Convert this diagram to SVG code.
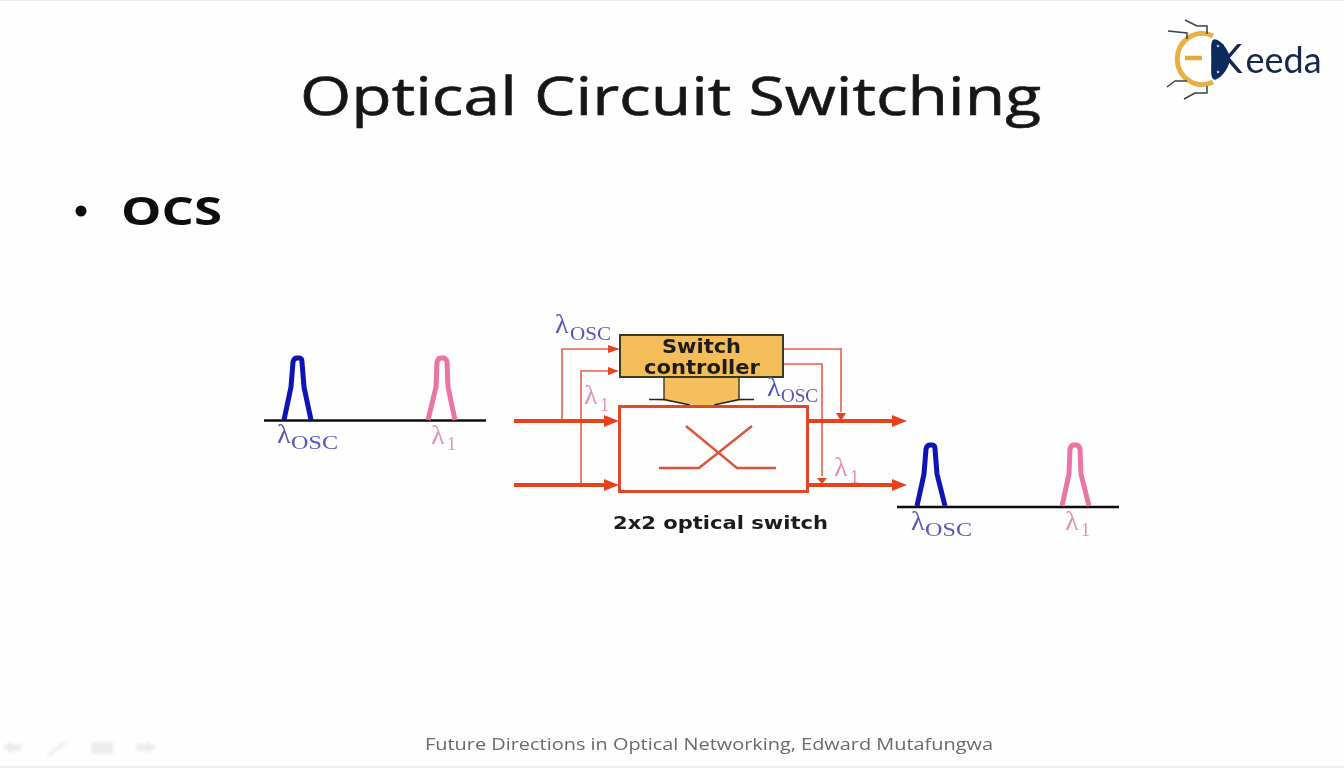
<svg xmlns="http://www.w3.org/2000/svg" width="1344" height="768" viewBox="0 0 1344 768">
<defs>
<filter id="soft" x="0" y="0" width="100%" height="100%"><feGaussianBlur stdDeviation="0.55"/></filter>
<filter id="softer" x="-20%" y="-20%" width="140%" height="140%"><feGaussianBlur stdDeviation="1.6"/></filter>
<style>
text{font-family:"Open Sans","DejaVu Sans",sans-serif}
.thick{fill:none;stroke:#e8431f;stroke-width:4}
.thin{fill:none;stroke:#e8604a;stroke-width:1.6}
.box{fill:#fefefe;stroke:#dd4a2c;stroke-width:3}
.ah{fill:#e8431f}
.bl{fill:none;stroke:#0d12b4;stroke-width:5;stroke-linejoin:round}
.pk{fill:none;stroke:#e874a4;stroke-width:5;stroke-linejoin:round}
.base{stroke:#111;stroke-width:2.6}
.lam{font-family:"Liberation Serif","DejaVu Serif",serif;font-size:28px}
.sub{font-family:"Liberation Serif","DejaVu Serif",serif;font-size:18px}
.bc{fill:#5a55b8}
.pc{fill:#e58fb8}
.bd{font-family:"DejaVu Sans",sans-serif;font-weight:700;fill:#1c1c1c}
.leg{fill:none;stroke:#3a4048;stroke-width:1.500}
</style>
</defs>
<rect width="1344" height="768" fill="#fefefe"/>
<g filter="url(#soft)">
<rect y="0" width="1344" height="1" fill="#e8e8e8"/>
<rect y="766" width="1344" height="2" fill="#ececec"/>
<text id="title" x="300" y="115" font-size="53" fill="#151515" stroke="#151515" stroke-width="0.600" textLength="741" lengthAdjust="spacingAndGlyphs">Optical Circuit Switching</text>
<circle cx="81" cy="211" r="5.500" fill="#111"/>
<text id="ocs" x="121" y="225" font-size="40" font-weight="700" fill="#111" textLength="101" lengthAdjust="spacingAndGlyphs">OCS</text>

<g id="logo">
<path d="M1213 36 A25 25.500 0 1 0 1213 82" fill="none" stroke="#e8b040" stroke-width="5"/>
<path d="M1185 58H1202" stroke="#e8a838" stroke-width="4.500"/>
<path class="leg" d="M1185 20L1197 26H1207V34M1168 31L1187 33V39M1167 87L1175 81H1187M1184 99L1195 93H1207V86"/>
<text x="1216" y="73" fill="#14284e" style="font-family:Lato,sans-serif" font-size="36"><tspan font-size="40">K</tspan><tspan dx="3">eeda</tspan></text>
<path d="M1215 40C1222 42 1229 52 1229 59C1229 66 1222 77 1215 79C1211 79 1212 70 1212 59C1212 48 1211 40 1215 40Z" fill="#0e2a5c" stroke="#0e2a5c" stroke-width="1.500"/>
<circle cx="1218" cy="46" r="1.300" fill="#b8c4d8"/><circle cx="1218" cy="72" r="1.300" fill="#b8c4d8"/>
</g>

<g id="left-spectrum">
<path class="base" d="M264 420.500H486"/>
<path class="bl" d="M284 420L291 387L293 362Q294 358 297 358H299Q302 358 302 362L304 387L311 420"/>
<path class="pk" d="M428 420L436 387L437 362Q438 358 441 358H443Q446 358 447 362L448 387L455 420"/>
<text x="277" y="443" class="lam bc">λ</text><text x="291" y="449" class="sub bc" textLength="47" lengthAdjust="spacingAndGlyphs">OSC</text>
<text x="431" y="444" class="lam pc">λ</text><text x="447" y="450" class="sub pc">1</text>
</g>

<g id="right-spectrum">
<path class="base" d="M897 507H1119"/>
<path class="bl" d="M917 506L924 474L926 449Q927 445 930 445H932Q935 445 935 449L937 474L945 506"/>
<path class="pk" d="M1062 506L1069 474L1070 449Q1071 445 1074 445H1076Q1079 445 1080 449L1081 474L1089 506"/>
<text x="911" y="530" class="lam bc">λ</text><text x="925" y="536" class="sub bc" textLength="47" lengthAdjust="spacingAndGlyphs">OSC</text>
<text x="1065" y="530" class="lam pc">λ</text><text x="1081" y="536" class="sub pc">1</text>
</g>

<g id="connectors">
<path class="thin" d="M562 420V349H610"/><path class="ah" d="M608 345L620 349L608 353Z"/>
<path class="thin" d="M581 485V371H610"/><path class="ah" d="M608 367L619 371L608 375Z"/>
<path class="thin" d="M784 349H841V412"/><path class="ah" d="M836 413L841 421L846 413Z"/>
<path class="thin" d="M784 364H822V476"/><path class="ah" d="M817 478L822 484L827 478Z"/>
<path class="thick" d="M514 421H606"/><path class="ah" d="M604 415L619 421L604 427Z"/>
<path class="thick" d="M514 485H606"/><path class="ah" d="M604 479L619 485L604 491Z"/>
<path class="thick" d="M808 421H893"/><path class="ah" d="M892 415L907 421L892 427Z"/>
<path class="thick" d="M808 485H893"/><path class="ah" d="M892 479L907 485L892 491Z"/>
</g>

<g id="switch-controller">
<path d="M664 378V399H649L702 406L754 399H739V378Z" fill="#f4bf5c"/>
<path d="M664 378V399M739 378V399" stroke="#4a4020" stroke-width="1.500"/>
<path d="M649 399.500H664L690 405M754 399.500H739L714 405" fill="none" stroke="#222" stroke-width="1.500"/>
<rect x="620" y="335" width="163" height="42" fill="#f4bd5a" stroke="#3a3a20" stroke-width="2"/>
<text x="662" y="353" class="bd" font-size="19" textLength="79" lengthAdjust="spacingAndGlyphs">Switch</text>
<text x="644" y="374" class="bd" font-size="19" textLength="116" lengthAdjust="spacingAndGlyphs">controller</text>
</g>

<g id="optical-switch">
<rect x="619.500" y="406.500" width="188" height="85" class="box"/>
<path d="M659 468H699L752 426M686 426L737 468H776" fill="none" stroke="#d9553a" stroke-width="2.400"/>
<text x="613" y="529" class="bd" font-size="18" textLength="215" lengthAdjust="spacingAndGlyphs">2x2 optical switch</text>
</g>

<g id="labels">
<text x="555" y="333" class="lam bc">λ</text><text x="570" y="340" class="sub bc" textLength="41" lengthAdjust="spacingAndGlyphs">OSC</text>
<text x="584" y="404" class="lam pc">λ</text><text x="600" y="411" class="sub pc">1</text>
<text x="767" y="396" class="lam bc">λ</text><text x="781" y="402" class="sub bc" textLength="37" lengthAdjust="spacingAndGlyphs">OSC</text>
<text x="834" y="476" class="lam pc">λ</text><text x="850" y="483" class="sub pc">1</text>
</g>

<text id="footer" x="425" y="750" font-size="17" fill="#6a6a6a" textLength="568" lengthAdjust="spacingAndGlyphs">Future Directions in Optical Networking, Edward Mutafungwa</text>
</g>
<g id="nav" fill="#ececec" filter="url(#softer)">
<path d="M2 747L12 741V744H21V751H12V754Z"/>
<path d="M46 755L64 741L67 743L50 756Z"/>
<path d="M91 742H113V754H91Z"/>
<path d="M156 747L147 741V744H136V751H147V754Z"/>
</g>
</svg>
